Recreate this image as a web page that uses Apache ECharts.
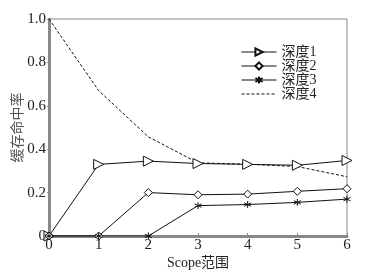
<!DOCTYPE html>
<html>
<head>
<meta charset="utf-8">
<script src="https://cdn.jsdelivr.net/npm/echarts@6/dist/echarts.min.js"></script>
<style>
html, body { margin: 0; padding: 0; background: #fff; }
#chart { width: 376px; height: 278px; }
</style>
</head>
<body>
<div id="chart"></div>
<script>
// scope values on the x axis
var scopes = [0, 1, 2, 3, 4, 5, 6];
var yTicks = [0, 0.2, 0.4, 0.6, 0.8, 1.0];
var seriesNames = ['深度1', '深度2', '深度3', '深度4'];
var depth1 = [0, 0.33, 0.345, 0.334, 0.33, 0.326, 0.348];
var depth2 = [0, 0, 0.2, 0.19, 0.193, 0.206, 0.218];
var depth3 = [0, 0, 0, 0.14, 0.145, 0.155, 0.17];
var depth4 = [1.0, 0.67, 0.457, 0.337, 0.331, 0.32, 0.273];

var fontSerif = '"Liberation Serif", "Noto Sans CJK SC", serif';
var star = 'path://M0,-5L0,5M-4.5,-2.5L4.5,2.5M-4.5,2.5L4.5,-2.5';

function pairs(arr) {
    var out = [];
    for (var i = 0; i < arr.length; ++i) {
        out.push([scopes[i], arr[i]]);
    }
    return out;
}

function makeSeries(name, data, symbol, size, rotate, dashed) {
    return {
        name: name,
        type: 'line',
        data: pairs(data),
        symbol: symbol,
        symbolSize: size,
        symbolRotate: rotate,
        showSymbol: !dashed,
        lineStyle: { color: '#111', width: 1, type: dashed ? [3, 2] : 'solid' },
        itemStyle: { color: '#fff', borderColor: '#111', borderWidth: 1 },
        emphasis: { disabled: true },
        animation: false
    };
}

var legendData = [];
for (var k = 0; k < seriesNames.length; ++k) {
    var item = { name: seriesNames[k] };
    if (k == 3) item.itemStyle = { opacity: 0 };
    legendData.push(item);
}

var chart = echarts.init(document.getElementById('chart'));
chart.setOption({
    backgroundColor: '#fff',
    animation: false,
    grid: { left: 49, right: 29, top: 19, bottom: 42, show: true, borderColor: '#888', borderWidth: 1,
        containLabel: false, outerBoundsMode: 'none' },
    legend: {
        orient: 'vertical',
        left: 236,
        top: 40,
        itemWidth: 35,
        itemHeight: 9,
        itemGap: 0,
        data: legendData,
        lineStyle: { width: 1 },
        textStyle: { fontFamily: fontSerif, fontSize: 14, lineHeight: 14, color: '#222' }
    },
    xAxis: {
        type: 'value',
        min: 0,
        max: 6,
        interval: 1,
        name: 'Scope范围',
        nameLocation: 'middle',
        nameGap: 20,
        nameMoveOverlap: false,
        nameTextStyle: { fontFamily: fontSerif, fontSize: 14, color: '#222' },
        axisLine: { lineStyle: { color: '#888', width: 3 } },
        axisTick: { inside: true, length: 3, lineStyle: { color: '#888' } },
        axisLabel: { fontFamily: fontSerif, fontSize: 15, color: '#222', margin: 2,
            formatter: function (v) { return String(v); } },
        splitLine: { show: false }
    },
    yAxis: {
        type: 'value',
        min: 0,
        max: 1,
        interval: 0.2,
        name: '缓存命中率',
        nameLocation: 'middle',
        nameGap: 25,
        nameMoveOverlap: false,
        nameTextStyle: { fontFamily: '"Noto Sans CJK SC", sans-serif', fontSize: 14, color: '#555' },
        axisLine: { show: true, lineStyle: { color: '#888', width: 3 } },
        axisTick: { show: true, inside: false, length: 2, lineStyle: { color: '#888' } },
        axisLabel: { fontFamily: fontSerif, fontSize: 15, color: '#222', margin: 3,
            formatter: function (v) {
                if (v === 0) return '0';
                for (var i = 0; i < yTicks.length; ++i) {
                    if (Math.abs(yTicks[i] - v) < 1e-9) return yTicks[i].toFixed(1);
                }
                return '';
            } },
        splitLine: { show: false }
    },
    series: [
        makeSeries(seriesNames[0], depth1, 'triangle', 10, -90, false),
        makeSeries(seriesNames[1], depth2, 'diamond', 8, 0, false),
        makeSeries(seriesNames[2], depth3, star, 7, 0, false),
        makeSeries(seriesNames[3], depth4, 'circle', 2, 0, true)
    ]
});
</script>
</body>
</html>
